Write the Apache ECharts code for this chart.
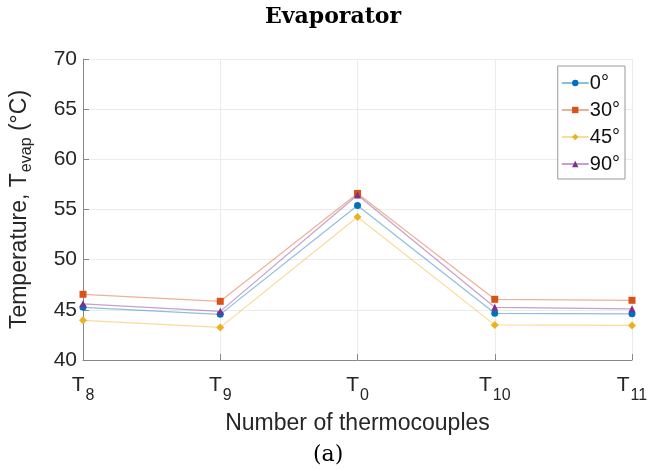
<!DOCTYPE html>
<html>
<head>
<meta charset="utf-8">
<script src="https://cdn.jsdelivr.net/npm/echarts@6/dist/echarts.min.js"></script>
<style>
  html, body { margin: 0; padding: 0; background: #fff; }
  #chart { width: 668px; height: 471px; }
</style>
</head>
<body>
<div id="chart"></div>
<script>
// Thermocouple positions along the evaporator (subscript numbers)
const positions = ['8', '9', '0', '10', '11'];
// Inclination angles
const angles = ['0°', '30°', '45°', '90°'];
// Temperatures (°C) for each angle
const temp0 = [45.25, 44.55, 55.4, 44.65, 44.6];
const temp30 = [46.55, 45.85, 56.6, 46.05, 45.95];
const temp45 = [43.95, 43.25, 54.25, 43.5, 43.45];
const temp90 = [45.6, 44.85, 56.45, 45.25, 45.1];
const yTicks = [40, 45, 50, 55, 60, 65, 70];

const colors = ['#0072BD', '#D95319', '#EDB120', '#7E2F8E'];
const symbols = ['circle', 'rect', 'diamond', 'triangle'];
const seriesValues = [temp0, temp30, temp45, temp90];

const chart = echarts.init(document.getElementById('chart'));

const series = seriesValues.map((vals, i) => ({
  name: angles[i],
  type: 'line',
  data: vals,
  symbol: symbols[i],
  symbolSize: i === 2 ? 8 : 7,
  showSymbol: true,
  lineStyle: { width: 1.2, color: colors[i], opacity: 0.45 },
  itemStyle: { color: colors[i] },
  emphasis: { disabled: true },
  z: 3
}));

chart.setOption({
  animation: false,
  color: colors,
  title: {
    text: 'Evaporator',
    left: 260,
    top: 1,
    textStyle: { fontFamily: 'DejaVu Serif', fontWeight: 'bold', fontSize: 22, color: '#000' }
  },
  grid: { left: 83, right: 36, top: 59, bottom: 111, containLabel: false },
  legend: {
    orient: 'vertical',
    right: 43,
    top: 66,
    backgroundColor: '#fff',
    borderColor: '#999',
    borderWidth: 1,
    borderRadius: 0,
    padding: [7, 5, 5, 3],
    itemGap: 7,
    itemWidth: 27,
    itemHeight: 8,
    textStyle: { fontFamily: 'Liberation Sans', fontSize: 20, color: '#111', padding: [0, 0, 0, -4] },
    data: angles
  },
  xAxis: {
    type: 'category',
    data: positions,
    boundaryGap: false,
    name: 'Number of thermocouples',
    nameLocation: 'middle',
    nameGap: 52,
    nameTextStyle: { fontFamily: 'Liberation Sans', fontSize: 23, color: '#262626' },
    axisLine: { lineStyle: { color: '#888', width: 1 } },
    axisTick: { inside: true, length: 6, lineStyle: { color: '#888' }, alignWithLabel: true },
    splitLine: { show: true, lineStyle: { color: '#ebebeb', width: 1 } },
    axisLabel: {
      margin: 6,
      formatter: v => '{t|T}{s|' + v + '}',
      rich: {
        t: { fontFamily: 'Liberation Sans', fontSize: 21, color: '#262626' },
        s: { fontFamily: 'Liberation Sans', fontSize: 16, color: '#262626', padding: [22, 0, 0, 1] }
      }
    }
  },
  yAxis: {
    type: 'value',
    min: yTicks[0],
    max: yTicks[yTicks.length - 1],
    interval: 5,
    name: '{a|Temperature, T}{s|evap}{a| (°C)}',
    nameLocation: 'middle',
    nameGap: 48,
    nameRotate: 90,
    nameTextStyle: {
      rich: {
        a: { fontFamily: 'Liberation Sans', fontSize: 23, color: '#262626' },
        s: { fontFamily: 'Liberation Sans', fontSize: 16, color: '#262626', padding: [14, 0, 0, 1] }
      }
    },
    axisLine: { show: true, lineStyle: { color: '#888', width: 1 } },
    axisTick: { show: true, inside: true, length: 6, lineStyle: { color: '#888' } },
    splitLine: { show: true, lineStyle: { color: '#ebebeb', width: 1 } },
    axisLabel: { margin: 6, fontFamily: 'Liberation Sans', fontSize: 21, color: '#262626' }
  },
  graphic: [
    {
      type: 'text',
      left: 313,
      top: 444,
      style: { text: '(a)', fontFamily: 'DejaVu Serif', fontSize: 22, fill: '#000' }
    }
  ],
  series: series
});
</script>
</body>
</html>
